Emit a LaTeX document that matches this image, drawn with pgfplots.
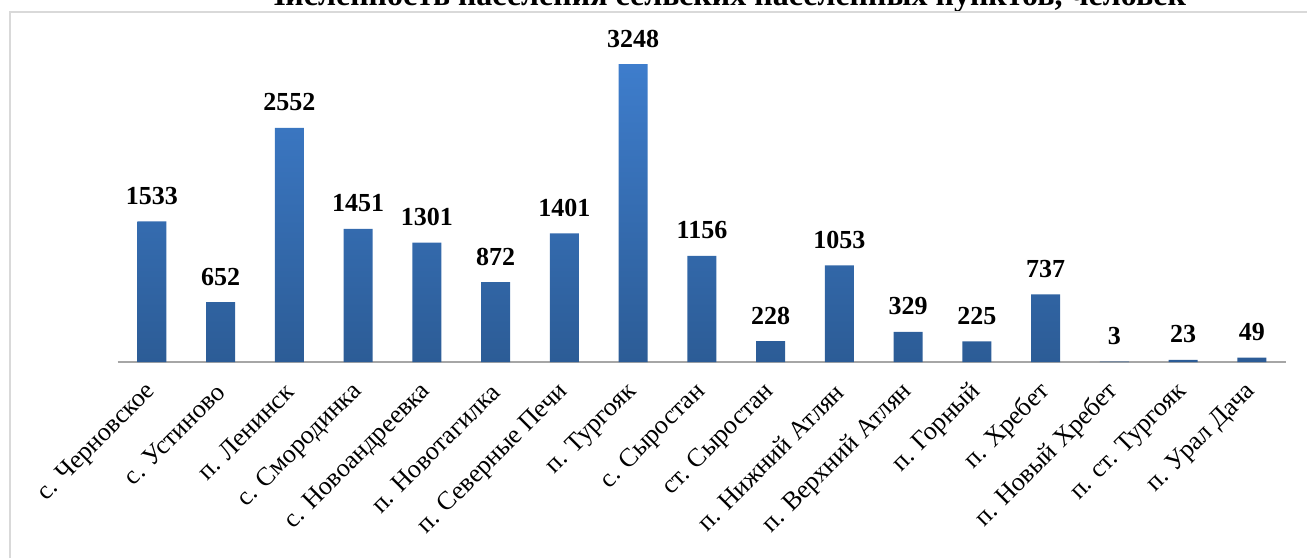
\documentclass[border=0pt]{standalone}
\usepackage{pgfplots}
\pgfplotsset{compat=1.18}
\usepackage{fontspec}
\setmainfont{Liberation Serif}
\definecolor{bartop}{RGB}{62,125,204}
\definecolor{barbot}{RGB}{44,92,150}
\definecolor{axgray}{RGB}{166,166,166}
\definecolor{framegray}{RGB}{217,217,217}
\begin{document}
\begin{tikzpicture}[x=1pt,y=1pt]
\path[use as bounding box] (0,0) rectangle (1307,558);
% frame
\draw[framegray, line width=1.5pt] (10,0) -- (10,546) -- (1307,546);
% title (cut off at the top)
\begin{scope}
\clip (0,547.5) rectangle (1307,558);
\node[anchor=base, inner sep=0pt, font=\fontsize{32}{36}\selectfont\bfseries] at (724,552) {Численность населения сельских населенных пунктов, человек};
\end{scope}
\begin{axis}[
  at={(117.6pt,196pt)}, anchor=south west,
  scale only axis, width=1168.75pt, height=321.1pt,
  xmin=-0.5, xmax=16.5, ymin=0, ymax=3500,
  axis x line*=bottom, axis y line=none,
  x axis line style={axgray, line width=1.5pt, -},
  ybar, bar width=29pt, bar shift=0pt,
  xtick={0,...,16},
  major tick length=0pt,
  xticklabels={{с. Черновское},{с. Устиново},{п. Ленинск},{с. Смородинка},{с. Новоандреевка},{п. Новотагилка},{п. Северные Печи},{п. Тургояк},{с. Сыростан},{ст. Сыростан},{п. Нижний Атлян},{п. Верхний Атлян},{п. Горный},{п. Хребет},{п. Новый Хребет},{п. ст. Тургояк},{п. Урал Дача}},
  xticklabel style={rotate=45, anchor=east, inner sep=0pt, font=\fontsize{26}{30}\selectfont},
  xticklabel shift=26pt,
  clip=false,
  /pgf/number format/assume math mode=true,
  /pgf/number format/1000 sep={},
]
\addplot[draw=none, top color=bartop, bottom color=barbot] coordinates {
(0,1533) (1,652) (2,2552) (3,1451) (4,1301) (5,872) (6,1401) (7,3248) (8,1156)
(9,228) (10,1053) (11,329) (12,225) (13,737) (14,3) (15,23) (16,49)};
\addplot[draw=none, fill=none,
  nodes near coords={\pgfmathprintnumber{\pgfplotspointmeta}},
  every node near coord/.append style={anchor=base, inner sep=0pt, yshift=17pt, text=black, font=\fontsize{26}{30}\selectfont\bfseries}
] coordinates {
(0,1533) (1,652) (2,2552) (3,1451) (4,1301) (5,872) (6,1401) (7,3248) (8,1156)
(9,228) (10,1053) (11,329) (12,225) (13,737) (14,3) (15,23) (16,49)};
\end{axis}
\end{tikzpicture}
\end{document}
